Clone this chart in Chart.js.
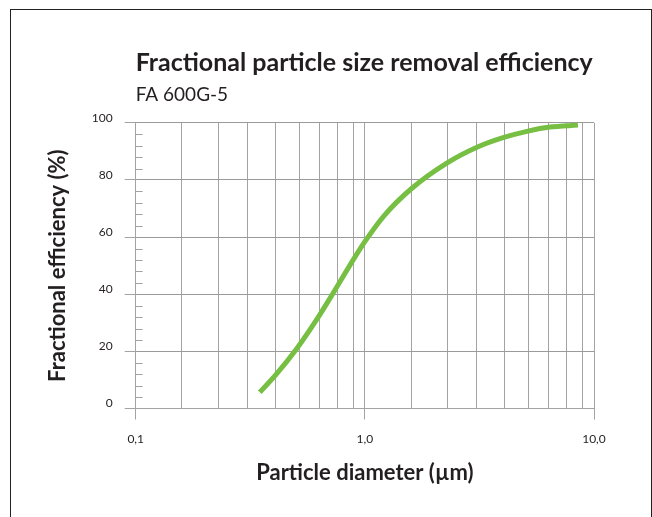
<!DOCTYPE html>
<html>
<head>
<meta charset="utf-8">
<script src="https://cdn.jsdelivr.net/npm/chart.js@4.4.1/dist/chart.umd.min.js"></script>
<style>
  html, body { margin: 0; padding: 0; background: #fff; overflow: hidden; }
  #wrap { position: relative; width: 652px; height: 517px; }
  #frame {
    position: absolute; left: 10px; top: 9px; width: 640px; height: 600px;
    border: 1px solid #222; border-bottom: none; pointer-events: none;
  }
</style>
</head>
<body>
<div id="wrap">
  <canvas id="efficiency" width="652" height="517"></canvas>
  <div id="frame"></div>
</div>
<script>
// particle diameter (µm) and fractional efficiency (%)
const diameters = [0.348, 0.404, 0.505, 0.624, 0.716, 0.860, 1.0, 1.22, 1.60, 2.27, 3.12, 4.01, 5.15, 6.41, 8.51];
const efficiency = [5.7, 11.3, 21.0, 31.8, 39.5, 50.1, 58.4, 67.7, 77.0, 85.8, 91.6, 94.8, 97.1, 98.5, 99.2];

// vertical grid lines as drawn on the original sheet
const xGrid = [0.1, 0.159, 0.229, 0.308, 0.407, 0.516, 0.632, 0.762, 0.889,
               1, 1.59, 2.29, 3.08, 4.07, 5.16, 6.32, 7.62, 8.89, 10];
const xDecades = [0.1, 1, 10];
const xTickLabels = ["0,1", "1,0", "10,0"];
const yMajor = [0, 20, 40, 60, 80, 100];

const textColor = "#231f20";
const gridGray = "#a3a3a3";

const isDecade = v => xDecades.some(d => Math.abs(d - v) < 1e-6);

// short inward ticks every 4 % on the y axis
const minorTicks = {
  id: "minorTicks",
  afterDraw(chart) {
    const y = chart.scales.y;
    const ctx = chart.ctx;
    const left = chart.chartArea.left;
    ctx.save();
    ctx.strokeStyle = gridGray;
    ctx.lineWidth = 1;
    for (let v = 4; v < 100; v += 4) {
      if (v % 20 === 0) continue;
      const py = Math.round(y.getPixelForValue(v)) + 0.5;
      ctx.beginPath();
      ctx.moveTo(left, py);
      ctx.lineTo(left + 7, py);
      ctx.stroke();
    }
    ctx.restore();
  }
};

new Chart(document.getElementById("efficiency"), {
  type: "line",
  data: {
    datasets: [{
      label: "FA 600G-5",
      data: diameters.map((d, i) => ({ x: d, y: efficiency[i] })),
      borderColor: "#76bf43",
      borderWidth: 5,
      borderCapStyle: "butt",
      pointRadius: 0,
      cubicInterpolationMode: "monotone",
      fill: false
    }]
  },
  options: {
    responsive: false,
    animation: false,
    devicePixelRatio: 1,
    layout: {
      padding: { left: 40, right: 58, top: 10, bottom: 27 }
    },
    plugins: {
      legend: { display: false },
      tooltip: { enabled: false },
      title: {
        display: true,
        text: "Fractional particle size removal efficiency",
        align: "start",
        fullSize: false,
        color: textColor,
        font: { family: "Lato", size: 25, weight: "bold" },
        padding: { top: 38, bottom: 2 }
      },
      subtitle: {
        display: true,
        text: "FA 600G-5",
        align: "start",
        fullSize: false,
        color: textColor,
        font: { family: "Lato", size: 19 },
        padding: { top: 3, bottom: 17 }
      }
    },
    scales: {
      x: {
        type: "logarithmic",
        min: 0.1,
        max: 10,
        afterBuildTicks: scale => {
          scale.ticks = xGrid.map(v => ({ value: v, major: isDecade(v) }));
        },
        afterFit: scale => { scale.height = 81.5; },
        grid: {
          color: gridGray,
          lineWidth: 1,
          tickLength: 11,
          tickColor: ctx => (ctx.tick && isDecade(ctx.tick.value)) ? gridGray : "rgba(0,0,0,0)"
        },
        border: { color: gridGray },
        ticks: {
          autoSkip: false,
          maxRotation: 0,
          padding: 12,
          color: textColor,
          font: { family: "Lato", size: 12 },
          callback: value => {
            const i = xDecades.findIndex(d => Math.abs(d - value) < 1e-6);
            return i >= 0 ? xTickLabels[i] : "";
          }
        },
        title: {
          display: true,
          text: "Particle diameter (µm)",
          color: textColor,
          font: { family: "Lato", size: 22, weight: "bold" },
          padding: { top: 4, bottom: 4 }
        }
      },
      y: {
        min: 0,
        max: 100,
        afterBuildTicks: scale => {
          scale.ticks = yMajor.map(v => ({ value: v }));
        },
        afterFit: scale => { scale.width = 95.7; },
        grid: {
          color: "#9a9a9a",
          lineWidth: 1,
          tickLength: 11,
          tickColor: gridGray
        },
        border: { color: gridGray },
        ticks: {
          padding: 12,
          labelOffset: -5,
          color: textColor,
          font: { family: "Lato", size: 12 }
        },
        title: {
          display: true,
          text: "Fractional efficiency (%)",
          color: textColor,
          font: { family: "Lato", size: 22, weight: "bold" },
          padding: { top: 5, bottom: 4 }
        }
      }
    }
  },
  plugins: [minorTicks]
});
</script>
</body>
</html>
